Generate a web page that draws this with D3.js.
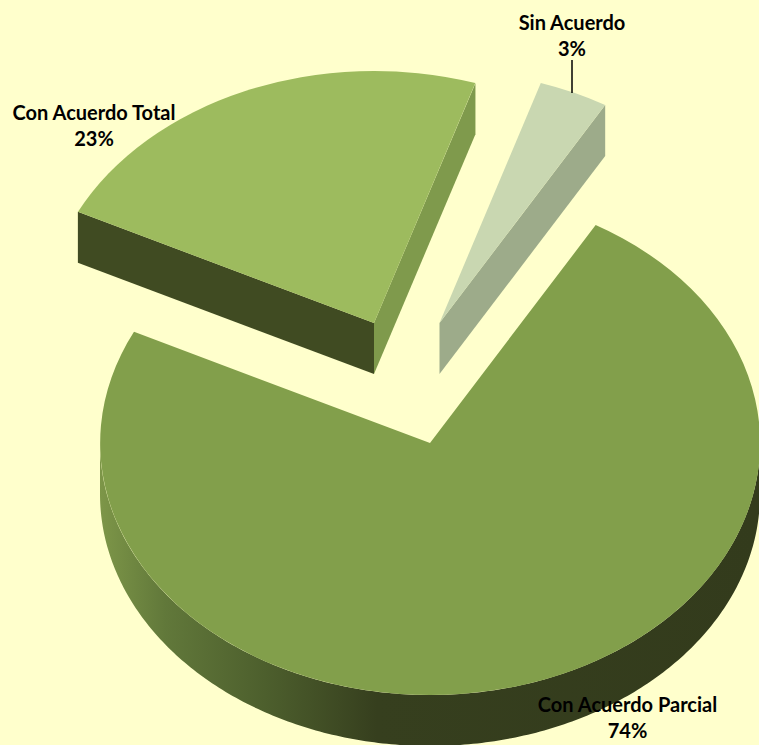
<!DOCTYPE html>
<html>
<head>
<meta charset="utf-8">
<script src="https://cdn.jsdelivr.net/npm/d3@7"></script>
<style>
html,body{margin:0;padding:0;background:#FFFFCC;overflow:hidden}
svg{display:block}
text{font-family:Lato,"Open Sans",sans-serif;font-weight:700;font-size:20px;fill:#000;text-anchor:middle}
</style>
</head>
<body>
<svg id="c" width="759" height="745"></svg>
<script>
const categories = ["Sin Acuerdo", "Con Acuerdo Parcial", "Con Acuerdo Total"];
const shares = [3.4, 73.9, 22.7];

// layout (kept apart from the data)
const W = 759, H = 745, RX = 330, RY = 252, DEPTH = 51;
const START = 17.9 * Math.PI / 180;
const centers = [[439.5, 323], [430, 443], [374, 323]];
const labelPos = [[572, 30], [627.5, 712], [94, 120]];
const topColors = ["#C9D7B1", "#829F4B", "#9DBB5E"];
const drawOrder = [2, 0, 1];

const svg = d3.select("#c");
svg.append("rect").attr("width", W).attr("height", H).attr("fill", "#FFFFCC");

const defs = svg.append("defs");
const grad = defs.append("linearGradient").attr("id", "wallMain")
  .attr("gradientUnits", "userSpaceOnUse")
  .attr("x1", 100).attr("x2", 759).attr("y1", 0).attr("y2", 0);
[[0, "#7D9648"], [0.1, "#61783A"], [0.25, "#4D5F2D"], [0.42, "#363F1E"], [1, "#333B1C"]]
  .forEach(s => grad.append("stop").attr("offset", s[0]).attr("stop-color", s[1]));

const pie = d3.pie().sort(null).startAngle(START).endAngle(START + 2 * Math.PI);
const slices = pie(shares);
const arc = d3.arc().innerRadius(0).outerRadius(1);
const pct = d3.format(".0f");

function pt(c, a, r, dz) {
  const x = d3.scaleLinear().domain([-1, 1]).range([c[0] - RX, c[0] + RX]);
  const y = d3.scaleLinear().domain([-1, 1]).range([c[1] - RY, c[1] + RY]);
  return [x(r * Math.sin(a)), y(-r * Math.cos(a)) + dz];
}
const line = d3.line();

function radialWall(c, a) {
  return line([pt(c, a, 0, 0), pt(c, a, 1, 0), pt(c, a, 1, DEPTH), pt(c, a, 0, DEPTH)]) + "Z";
}
function outerWall(c, a0, a1) {
  const n = 240;
  const as = d3.range(n + 1).map(i => a0 + (a1 - a0) * i / n);
  const top = as.map(a => pt(c, a, 1, 0));
  const bot = as.slice().reverse().map(a => pt(c, a, 1, DEPTH));
  return line(top.concat(bot)) + "Z";
}

const g = svg.append("g");

drawOrder.forEach(i => {
  const s = slices[i], c = centers[i];
  const sg = g.append("g");
  if (i === 2) {
    sg.append("path").attr("d", radialWall(c, s.startAngle)).attr("fill", "#404B22");
    sg.append("path").attr("d", radialWall(c, s.endAngle)).attr("fill", "#7F9A4C");
  }
  if (i === 0) {
    sg.append("path").attr("d", radialWall(c, s.endAngle)).attr("fill", "#9DAB8A");
  }
  if (i === 1) {
    sg.append("path").attr("d", outerWall(c, Math.PI / 2, 3 * Math.PI / 2)).attr("fill", "url(#wallMain)");
  }
  sg.append("path")
    .attr("d", arc({startAngle: s.startAngle, endAngle: s.endAngle}))
    .attr("transform", `translate(${c[0]},${c[1]}) scale(${RX},${RY})`)
    .attr("fill", topColors[i]);
});

// leader line of the small slice
const lx = labelPos[0][0];
svg.append("line").attr("x1", lx).attr("x2", lx).attr("y1", 60).attr("y2", 93)
  .attr("stroke", "#000").attr("stroke-width", 1.5);

slices.forEach((s, i) => {
  const t = svg.append("text").attr("x", labelPos[i][0]).attr("y", labelPos[i][1]);
  t.append("tspan").attr("x", labelPos[i][0]).text(categories[i]);
  t.append("tspan").attr("x", labelPos[i][0]).attr("dy", 26).text(pct(s.data) + "%");
});
</script>
</body>
</html>
